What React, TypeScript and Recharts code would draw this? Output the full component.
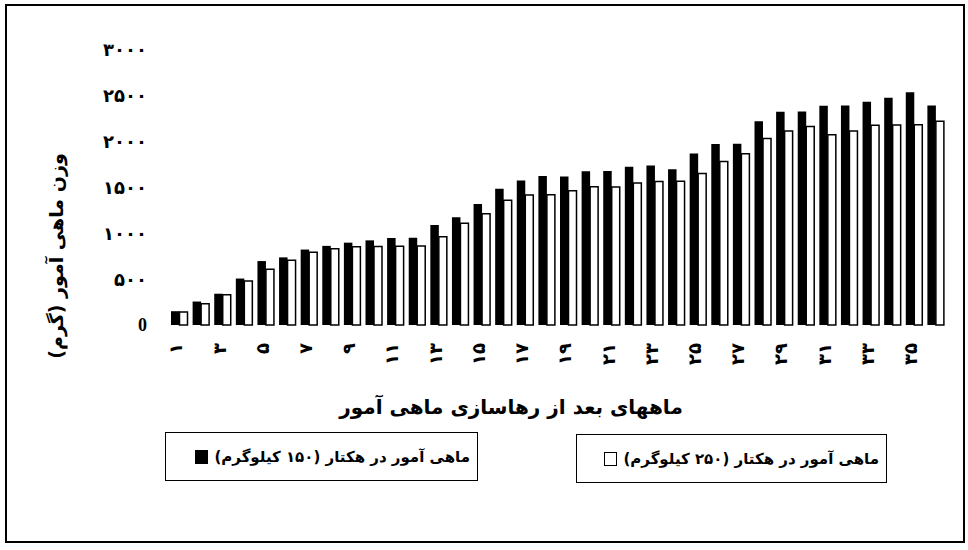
import { BarChart, Bar, XAxis, YAxis } from "recharts";

// months after release (Persian numerals), one category per month
const months = [
  "۱", "۲", "۳", "۴", "۵", "۶", "۷", "۸", "۹", "۱۰", "۱۱", "۱۲",
  "۱۳", "۱۴", "۱۵", "۱۶", "۱۷", "۱۸", "۱۹", "۲۰", "۲۱", "۲۲", "۲۳", "۲۴",
  "۲۵", "۲۶", "۲۷", "۲۸", "۲۹", "۳۰", "۳۱", "۳۲", "۳۳", "۳۴", "۳۵", "۳۶",
];

// fish weight (g), 150 kg per hectare (black)
const w150 = [
  150, 255, 340, 505, 695, 735, 820, 860, 895, 920, 945, 948,
  1088, 1170, 1315, 1480, 1570, 1620, 1615, 1672, 1674, 1720, 1734, 1692,
  1865, 1968, 1970, 2215, 2319, 2321, 2384, 2387, 2426, 2471, 2531, 2385,
];

// fish weight (g), 250 kg per hectare (white)
const w250 = [
  140, 230, 330, 477, 606, 705, 792, 830, 850, 854, 856, 858,
  958, 1105, 1208, 1355, 1412, 1415, 1460, 1502, 1501, 1543, 1560, 1562,
  1648, 1776, 1862, 2027, 2108, 2158, 2069, 2109, 2172, 2174, 2177, 2216,
];

const yTicks = [0, 500, 1000, 1500, 2000, 2500, 3000];
const yTickLabels = ["0", "۵۰۰", "۱۰۰۰", "۱۵۰۰", "۲۰۰۰", "۲۵۰۰", "۳۰۰۰"];

const yTitle = "وزن ماهی آمور (گرم)";
const xTitle = "ماههای بعد از رهاسازی ماهی آمور";
const legend150 = "ماهی آمور در هکتار (۱۵۰ کیلوگرم)";
const legend250 = "ماهی آمور در هکتار (۲۵۰ کیلوگرم)";

const data = months.map((m, i) => ({ month: m, b150: w150[i], b250: w250[i] }));

const FA = '"DejaVu Sans", sans-serif';

function XTick(props: any) {
  const { x, y, payload } = props;
  const tx = x - 3;
  return (
    <text
      x={tx}
      y={y}
      transform={`rotate(-90 ${tx} ${y})`}
      textAnchor="end"
      dominantBaseline="central"
      fontFamily={FA}
      fontWeight="bold"
      fontSize={18}
      letterSpacing={1}
      fill="#000"
    >
      {payload.value}
    </text>
  );
}

function YTick(props: any) {
  const { x, y, payload, index } = props;
  const label = yTickLabels[index] ?? String(payload.value);
  const isLatin = payload.value === 0;
  return (
    <text
      x={x}
      y={y}
      textAnchor="end"
      dominantBaseline="central"
      fontFamily={isLatin ? '"Liberation Serif", serif' : FA}
      fontWeight="bold"
      fontSize={isLatin ? 18 : 18}
      letterSpacing={isLatin ? 0 : 3.5}
      fill="#000"
    >
      {label}
    </text>
  );
}

function LegendBox({ left, top, width, text, filled }: { left: number; top: number; width: number; text: string; filled: boolean }) {
  return (
    <div
      style={{
        position: "absolute",
        left,
        top,
        width,
        height: 49,
        boxSizing: "border-box",
        border: "1.5px solid #000",
        direction: "rtl",
        display: "flex",
        alignItems: "center",
        paddingRight: 7,
        gap: 6,
        fontFamily: FA,
        fontWeight: "bold",
        fontSize: 15,
        whiteSpace: "nowrap",
      }}
    >
      <span>{text}</span>
      <span
        style={{
          display: "inline-block",
          width: 13,
          height: 14,
          boxSizing: "border-box",
          background: filled ? "#000" : "#fff",
          border: "1.5px solid #000",
        }}
      />
    </div>
  );
}

export default function App() {
  return (
    <div style={{ position: "fixed", left: 0, top: 0, width: 968, height: 550, background: "#fff" }}>
      <div
        style={{
          position: "absolute",
          left: 5,
          top: 4,
          width: 960,
          height: 539,
          boxSizing: "border-box",
          border: "2px solid #000",
        }}
      />
      <div style={{ position: "absolute", left: 0, top: 0 }}>
        <BarChart
          width={968}
          height={550}
          data={data}
          margin={{ top: 49, right: 22, bottom: 180, left: 0 }}
          barGap={0}
        >
          <XAxis
            dataKey="month"
            interval={1}
            height={45}
            axisLine={false}
            tickLine={false}
            tickSize={0}
            tickMargin={18}
            tick={<XTick />}
          />
          <YAxis
            width={168}
            domain={[0, 3000]}
            ticks={yTicks}
            axisLine={false}
            tickLine={false}
            tickSize={0}
            tickMargin={21}
            tick={<YTick />}
          />
          <Bar dataKey="b150" fill="#000" barSize={8.5} isAnimationActive={false} />
          <Bar dataKey="b250" fill="#fff" stroke="#000" strokeWidth={1.5} barSize={8} isAnimationActive={false} />
        </BarChart>
      </div>
      <div
        style={{
          position: "absolute",
          left: 56,
          top: 256,
          transform: "translate(-50%, -50%) rotate(-90deg)",
          whiteSpace: "nowrap",
          direction: "rtl",
          fontFamily: FA,
          fontWeight: "bold",
          fontSize: 19,
        }}
      >
        {yTitle}
      </div>
      <div
        style={{
          position: "absolute",
          left: 511,
          top: 407,
          transform: "translate(-50%, -50%)",
          whiteSpace: "nowrap",
          direction: "rtl",
          fontFamily: FA,
          fontWeight: "bold",
          fontSize: 20,
        }}
      >
        {xTitle}
      </div>
      <LegendBox left={165} top={432} width={313} text={legend150} filled />
      <LegendBox left={576} top={434} width={311} text={legend250} filled={false} />
    </div>
  );
}
